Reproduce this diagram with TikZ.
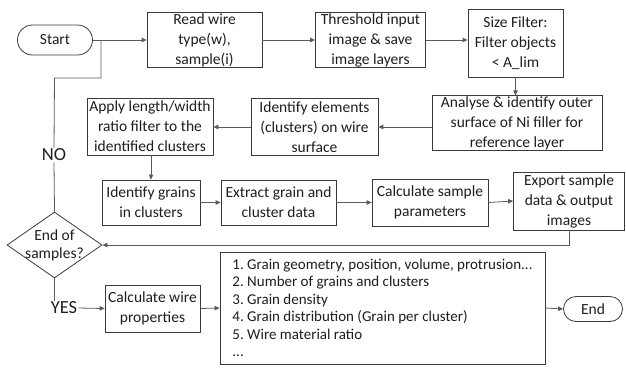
\documentclass[tikz,border=0pt]{standalone}
\usepackage{fontspec}
\setmainfont{Carlito}
\usetikzlibrary{shapes.geometric,shapes.misc,arrows.meta}
\definecolor{edge}{HTML}{3A3A3A}
\definecolor{conn}{HTML}{5A5A5A}
\definecolor{txt}{HTML}{1E1E1E}
\tikzset{
  box/.style={draw=edge, line width=0.8pt, fill=white, align=center, inner sep=0.5pt,
    text=txt, font=\fontsize{15.5}{20}\selectfont},
  term/.style={box, rounded rectangle},
  decision/.style={draw=edge, line width=0.8pt, diamond, inner sep=0pt},
  lab/.style={text=txt, font=\fontsize{18.5}{20}\selectfont, inner sep=1pt, fill=white},
  conline/.style={draw=conn, line width=0.8pt},
  arr/.style={conline, -{Triangle[length=5pt,width=4.5pt]}},
}
\begin{document}
\frenchspacing
\begin{tikzpicture}[x=1pt,y=-1pt]
\useasboundingbox (0,0) rectangle (626,367);
% row 1
\node[term, minimum width=76pt, minimum height=30pt] (start) at (55,40) {Start};
\node[box, minimum width=115pt, minimum height=55pt] (read) at (204.5,40) {Read wire\\type(w),\\sample(i)};
\node[box, minimum width=110pt, minimum height=55pt] (thr) at (370.5,40) {Threshold input\\image \& save\\image layers};
\node[box, minimum width=95pt, minimum height=68pt] (size) at (515.5,43) {Size Filter:\\Filter objects\\< A\_lim};
% row 2
\node[box, minimum width=170pt, minimum height=52pt] (ana) at (517,123) {Analyse \& identify outer\\surface of Ni filler for\\reference layer};
\node[box, minimum width=127pt, minimum height=57pt] (ide) at (314.5,127) {Identify elements\\(clusters) on wire\\surface};
\node[box, minimum width=126pt, minimum height=57pt] (app) at (150,126.5) {Apply length/width\\ratio filter to the\\identified clusters};
% row 3
\node[box, minimum width=98pt, minimum height=45pt] (grains) at (151,202.5) {Identify grains\\in clusters};
\node[box, minimum width=115pt, minimum height=45pt] (ext) at (278.5,202.5) {Extract grain and\\cluster data};
\node[box, minimum width=116pt, minimum height=47pt] (calc) at (430,202.5) {Calculate sample\\parameters};
\node[box, minimum width=111pt, minimum height=58pt] (exp) at (569,201) {Export sample\\data \& output\\images};
% decision
\node[decision, minimum width=95pt, minimum height=66pt] (dia) at (54.5,245) {};
\node[align=center, text=txt, font=\fontsize{15.5}{18}\selectfont, inner sep=0pt] (diatext) at (dia.center) {End of\\samples?};
% row 4
\node[lab] (no) at (54,155) {NO};
\node[lab] (yes) at (64,308) {YES};
\node[box, minimum width=95pt, minimum height=47pt] (cw) at (152.5,308.5) {Calculate wire\\properties};
\node[box, minimum width=325pt, minimum height=112pt, align=left, font=\fontsize{15}{17.5}\selectfont] (list) at (382.5,308)
  {1. Grain geometry, position, volume, protrusion...\\2. Number of grains and clusters\\3. Grain density\\4. Grain distribution (Grain per cluster)\\5. Wire material ratio\\...};
\node[term, minimum width=60pt, minimum height=25pt] (end) at (593,309) {End};
% coordinates
\coordinate (c1) at (54.5,78);
\coordinate (c2) at (101,78);
\coordinate (join) at (101,40);
% connectors
\draw[arr] (start.east) -- (read.west);
\draw[arr] (read.east) -- (thr.west);
\draw[arr] (thr.east) -- (thr.east -| size.west);
\draw[arr] (size.south) -- (size.south |- ana.north);
\draw[arr] (ana.west |- ide.east) -- (ide.east);
\draw[arr] (ide.west) -- (ide.west -| app.east);
\draw[arr] (grains.north |- app.south) -- (grains.north);
\draw[arr] (grains.east) -- (ext.west);
\draw[arr] (ext.east) -- (calc.west);
\draw[arr] (calc.east) -- (exp.west);
\draw[arr] (exp.south) |- (dia.east);
\draw[conline] (dia.north) -- (no.south);
\draw[conline] (no.north) -- (c1) -- (c2) -- (join);
\draw[conline] (dia.south) -- (dia.south |- yes.north);
\draw[arr] (yes.east) -- (cw.west);
\draw[arr] (cw.east) -- (list.west);
\draw[arr] (list.east) -- (end.west);
\end{tikzpicture}
\end{document}
